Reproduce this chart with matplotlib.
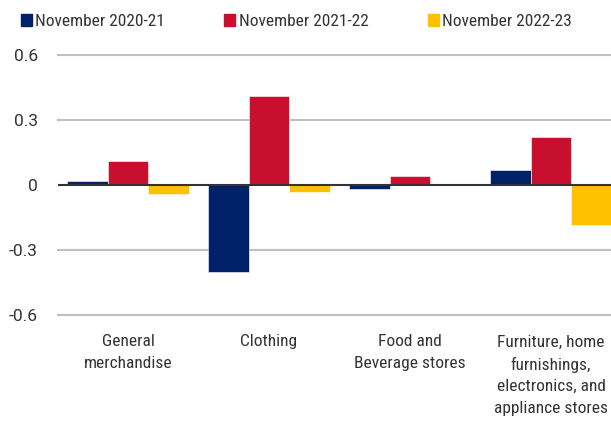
import numpy as np
import matplotlib.pyplot as plt
from matplotlib.patches import Patch
from matplotlib import font_manager

names = sorted(set(f.name for f in font_manager.fontManager.ttflist))
fam = 'DejaVu Sans'
for f in ['Roboto Condensed', 'Open Sans Condensed', 'Liberation Sans Narrow', 'DejaVu Sans Condensed', 'Roboto']:
    if f in names:
        fam = f
        break
plt.rcParams['font.family'] = [fam, 'DejaVu Sans']

categories = ['General\nmerchandise', 'Clothing', 'Food and\nBeverage stores',
              'Furniture, home\nfurnishings,\nelectronics, and\nappliance stores']
series = ['November 2020-21', 'November 2021-22', 'November 2022-23']
v2021 = [0.02, -0.40, -0.02, 0.07]
v2122 = [0.11, 0.41, 0.04, 0.22]
v2223 = [-0.04, -0.03, 0.0, -0.185]
yticks = [0.6, 0.3, 0, -0.3, -0.6]
ylabels = ['0.6', '0.3', '0', '-0.3', '-0.6']
colors = ['#012169', '#C8102E', '#FFC000']

fig = plt.figure(figsize=(6.11, 4.23), dpi=100)
# axes runs past the right edge, like the cropped original
ax = fig.add_axes([57.5/611, 108/423, 564/611, 260/423])

x = np.arange(len(categories))
w = 0.289
for i, vals in enumerate([v2021, v2122, v2223]):
    ax.bar(x + (i - 1)*w, vals, w, color=colors[i], edgecolor='white', linewidth=0.4, zorder=2)

ax.set_xlim(-0.5, 3.5)
ax.set_ylim(-0.6, 0.6)
ax.set_yticks(yticks)
ax.set_yticklabels(ylabels, family=['Roboto', 'DejaVu Sans'])
for y in yticks:
    if y != 0:
        ax.axhline(y, color='#c0c0c0', lw=1.5, zorder=1, clip_on=False)
ax.axhline(0, color='#333333', lw=1.5, zorder=3)

ax.set_xticks(x)
ax.set_xticklabels(categories, va='top', linespacing=1.55)
ax.tick_params(axis='both', length=0, labelsize=12.5, colors='#333333')
ax.tick_params(axis='x', pad=14)
ax.tick_params(axis='y', pad=14)
for s in ax.spines.values():
    s.set_visible(False)

handles = [Patch(color=c) for c in colors]
fig.legend(handles, series, loc='upper left', bbox_to_anchor=(0.008, 1.003), ncol=3,
           frameon=False, fontsize=12.5, handlelength=0.65, handleheight=0.65,
           handletextpad=0.2, columnspacing=3.4, labelcolor='#333333')

plt.savefig('out.png', dpi=100)
